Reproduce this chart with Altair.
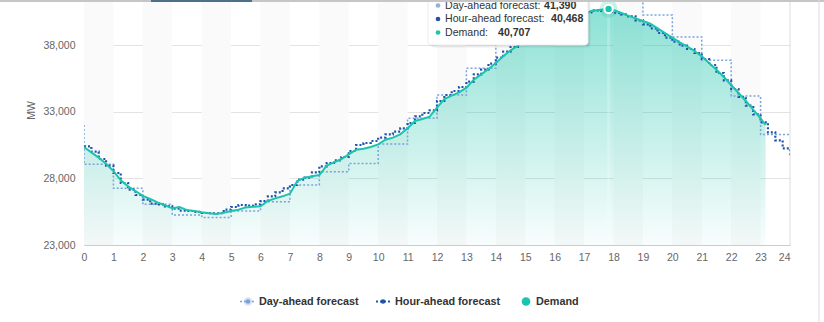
import altair as alt
import pandas as pd

# ---------------- data ----------------
# Demand, quarter-hourly from 0:00 to 23:00, plus last reading ~23:10
demand_hours = [i / 4 for i in range(93)] + [23.17]
demand = [
    30350, 29950, 29550, 29100,   # 0
    28550, 27850, 27400, 27050,   # 1
    26680, 26450, 26200, 25980,   # 2
    25750, 25850, 25620, 25550,   # 3
    25450, 25380, 25330, 25420,   # 4
    25550, 25650, 25820, 25860,   # 5
    25900, 26300, 26500, 26650,   # 6
    26850, 27800, 28050, 28150,   # 7
    28250, 28950, 29200, 29450,   # 8
    29800, 30150, 30220, 30350,   # 9
    30550, 30900, 31050, 31300,   # 10
    31750, 32300, 32450, 32620,   # 11
    33300, 33950, 34200, 34450,   # 12
    34800, 35400, 35800, 36200,   # 13
    36650, 37150, 37600, 37950,   # 14
    38350, 38700, 39050, 39300,   # 15
    39550, 39700, 39900, 40150,   # 16
    40350, 40550, 40620, 40690,   # 17
    40620, 40420, 40200, 40000,   # 18
    39800, 39600, 39250, 38900,   # 19
    38550, 38200, 37900, 37550,   # 20
    37150, 36650, 36150, 35600,   # 21
    35000, 34400, 33800, 33150,   # 22
    32500, 32000,                 # 23:00, 23:10
]

# Hour-ahead forecast, quarter-hourly 0:00 .. 24:00
hour_ahead_hours = [i / 4 for i in range(97)]
hour_ahead = [
    30400, 30000, 29450, 28950,   # 0
    28400, 27650, 27150, 26750,   # 1
    26400, 26100, 26050, 25900,   # 2
    25720, 25580, 25550, 25480,   # 3
    25400, 25380, 25380, 25650,   # 4
    25850, 26000, 25950, 26050,   # 5
    26300, 26650, 26950, 27250,   # 6
    27500, 27900, 28050, 28450,   # 7
    28900, 29150, 29350, 29600,   # 8
    30050, 30500, 30650, 30800,   # 9
    31050, 31300, 31500, 31750,   # 10
    32150, 32650, 32900, 33100,   # 11
    33800, 34250, 34550, 34850,   # 12
    35250, 35800, 36150, 36600,   # 13
    37050, 37500, 37850, 38200,   # 14
    38550, 38900, 39250, 39500,   # 15
    39750, 39950, 40100, 40300,   # 16
    40450, 40600, 40550, 40480,   # 17
    40400, 40300, 40150, 39850,   # 18
    39550, 39250, 38900, 38550,   # 19
    38250, 37950, 37700, 37400,   # 20
    36950, 36500, 35900, 35350,   # 21
    34700, 34100, 33450, 32800,   # 22
    32200, 31450, 30850, 30250,   # 23
    29700,                        # 24
]

# Day-ahead forecast, hour-ending values (step-before)
day_ahead_hours = list(range(25))
day_ahead = [32000, 29050, 27250, 26050, 25250, 25070, 25550, 26250, 27500,
             28500, 29120, 30570, 32500, 34250, 36250, 38900, 39900, 40700,
             41390, 41700, 40250, 38600, 36850, 34170, 31280]

band_starts = list(range(0, 24, 2))
x_ticks = list(range(25))
y_ticks = [23000, 28000, 33000, 38000]

hover_hour = 17.833
tip_labels = ["Day-ahead forecast:", "Hour-ahead forecast:", "Demand:"]
tip_values = [41390, 40468, 40707]
legend_labels = ["Day-ahead forecast", "Hour-ahead forecast", "Demand"]

# ---------------- styling ----------------
W, H = 706, 245
FONT = "Liberation Sans"
TEAL = "#1cc4ab"
DA = "#7ba3da"
HA = "#2053b0"
TXT = "#333333"
AX = "#666666"

xsc = alt.Scale(domain=[0, 24], nice=False, zero=False)
ysc = alt.Scale(domain=[23000, 41375], nice=False, zero=False)


def X(field):
    return alt.X(field, type="quantitative", scale=xsc,
                 axis=alt.Axis(values=x_ticks, title=None, grid=False, ticks=False,
                               domain=True, domainColor="#cccccc",
                               labelExpr="format(datum.value, 'd')",
                               labelFlush=False,
                               labelAlign={"condition": {"test": "datum.value == 24", "value": "right"},
                                           "value": "center"},
                               labelFont=FONT, labelFontSize=10.5, labelColor=AX,
                               labelPadding=7))


def Y(field):
    return alt.Y(field, type="quantitative", scale=ysc,
                 axis=alt.Axis(values=y_ticks, title="MW",
                               labelExpr="format(datum.value, ',')",
                               titleFont=FONT, titleFontSize=10.5, titleFontWeight="normal",
                               titleColor=AX, titleX=-53, titleY=110, titleBaseline="middle",
                               grid=True, gridColor="#e3e3e3", ticks=False,
                               domain=True, domainColor="#dddddd",
                               labelFont=FONT, labelFontSize=10.5, labelColor=AX,
                               labelPadding=9))


dem_df = pd.DataFrame({"hour": demand_hours, "value": demand})
ha_df = pd.DataFrame({"hour": hour_ahead_hours, "value": hour_ahead})
da_df = pd.DataFrame({"hour": day_ahead_hours, "value": day_ahead})
band_df = pd.DataFrame({"start": band_starts, "end": [s + 1 for s in band_starts]})
hover_df = pd.DataFrame({"hour": [hover_hour], "value": [tip_values[2]]})
one = pd.DataFrame({"a": [0]})

bands = alt.Chart(band_df).mark_rect(color="#fafafa").encode(
    x=X("start"), x2="end", y=alt.value(0), y2=alt.value(H))

grad = alt.Gradient(
    gradient="linear",
    stops=[alt.GradientStop(color="rgba(27,196,172,0.5)", offset=0),
           alt.GradientStop(color="rgba(27,196,172,0.03)", offset=1)],
    x1=1, x2=1, y1=0, y2=1)

area = alt.Chart(dem_df).mark_area(clip=True, color=grad).encode(
    x=X("hour"), y=Y("value"), y2=alt.datum(23000))

da_line = alt.Chart(da_df).mark_line(
    clip=True, interpolate="step-before", color=DA, strokeWidth=1.5,
    strokeDash=[2, 2]).encode(x=X("hour"), y=Y("value"))

ha_line = alt.Chart(ha_df).mark_line(
    clip=True, interpolate="step-after", color=HA, strokeWidth=2.2,
    strokeDash=[2, 2]).encode(x=X("hour"), y=Y("value"))

dem_line = alt.Chart(dem_df).mark_line(
    clip=True, color=TEAL, strokeWidth=2).encode(x=X("hour"), y=Y("value"))

crosshair = alt.Chart(hover_df).mark_rule(color="#ffffff", opacity=0.22, strokeWidth=3).encode(
    x=X("hour"), y=alt.value(0), y2=alt.value(H))

halo = alt.Chart(hover_df).mark_circle(size=320, color=TEAL, opacity=0.22).encode(
    x=X("hour"), y=Y("value"))
marker = alt.Chart(hover_df).mark_circle(size=70, color=TEAL, opacity=1,
                                         stroke="white", strokeWidth=2).encode(
    x=X("hour"), y=Y("value"))

right_border = alt.Chart(one).mark_rule(color="#dddddd").encode(
    x=alt.value(W), y=alt.value(0), y2=alt.value(H))

layers = [bands, area, da_line, ha_line, dem_line, crosshair, halo, marker, right_border]

# ---------------- tooltip box ----------------
bx0, bx1, by1 = 344, 504, 45
for off, op in [(3, 0.03), (2, 0.05), (1, 0.07)]:
    layers.append(alt.Chart(one).mark_rect(color="#000000", opacity=op, cornerRadius=3).encode(
        x=alt.value(bx0 + off), x2=alt.value(bx1 + off), y=alt.value(-10 + off), y2=alt.value(by1 + off)))
layers.append(alt.Chart(one).mark_rect(fill="#ffffff", stroke="#ececec", strokeWidth=1,
                                       cornerRadius=3).encode(
    x=alt.value(bx0), x2=alt.value(bx1), y=alt.value(-10), y2=alt.value(by1)))

tip_colors = ["#8fb1de", HA, TEAL]
tip_y = [5.5, 19, 32.5]
tip_val_x = [460, 467, 414]
for lab, val, col, yy, vx in zip(tip_labels, tip_values, tip_colors, tip_y, tip_val_x):
    layers.append(alt.Chart(one).mark_circle(size=22, color=col, opacity=1).encode(
        x=alt.value(354), y=alt.value(yy)))
    layers.append(alt.Chart(one).mark_text(text=lab, align="left", baseline="middle",
                                           font=FONT, fontSize=10.6, color=TXT).encode(
        x=alt.value(361), y=alt.value(yy)))
    layers.append(alt.Chart(one).mark_text(text=f"{val:,}", align="left", baseline="middle",
                                           font=FONT, fontSize=10.6, fontWeight="bold",
                                           color=TXT).encode(
        x=alt.value(vx), y=alt.value(yy)))

# ---------------- legend ----------------
LY = 301.5
layers += [
    alt.Chart(one).mark_rule(color=DA, strokeWidth=1.5, strokeDash=[2, 2]).encode(
        x=alt.value(156), x2=alt.value(172), y=alt.value(LY)),
    alt.Chart(one).mark_circle(size=70, color=DA, opacity=0.3).encode(
        x=alt.value(164), y=alt.value(LY)),
    alt.Chart(one).mark_circle(size=22, color=DA, opacity=1).encode(
        x=alt.value(164), y=alt.value(LY)),
    alt.Chart(one).mark_rule(color=HA, strokeWidth=2, strokeDash=[2, 2]).encode(
        x=alt.value(292), x2=alt.value(306), y=alt.value(LY)),
    alt.Chart(one).mark_circle(size=22, color=HA, opacity=1).encode(
        x=alt.value(299), y=alt.value(LY)),
    alt.Chart(one).mark_circle(size=75, color=TEAL, opacity=1).encode(
        x=alt.value(442), y=alt.value(LY)),
]
for lab, lx in zip(legend_labels, [175, 311, 452]):
    layers.append(alt.Chart(one).mark_text(text=lab, align="left", baseline="middle",
                                           font=FONT, fontSize=10.8, fontWeight="bold",
                                           color=TXT).encode(
        x=alt.value(lx), y=alt.value(LY)))

# ---------------- page frame ----------------
layers += [
    alt.Chart(one).mark_rule(color="#c6c6c6", strokeWidth=2).encode(
        x=alt.value(-84), x2=alt.value(740), y=alt.value(1)),
    alt.Chart(one).mark_rule(color="#4d7089", strokeWidth=2).encode(
        x=alt.value(67), x2=alt.value(168), y=alt.value(1)),
    alt.Chart(one).mark_rule(color="#dddddd").encode(
        x=alt.value(735), y=alt.value(0), y2=alt.value(322)),
]

chart = alt.layer(*layers).properties(
    width=W, height=H,
    autosize=alt.AutoSizeParams(type="none"),
    padding={"left": 84, "top": 0, "right": 34, "bottom": 77},
    background="#ffffff",
).configure_view(stroke=None)

chart.save("out.html", embed_options={"renderer": "svg", "actions": False})
